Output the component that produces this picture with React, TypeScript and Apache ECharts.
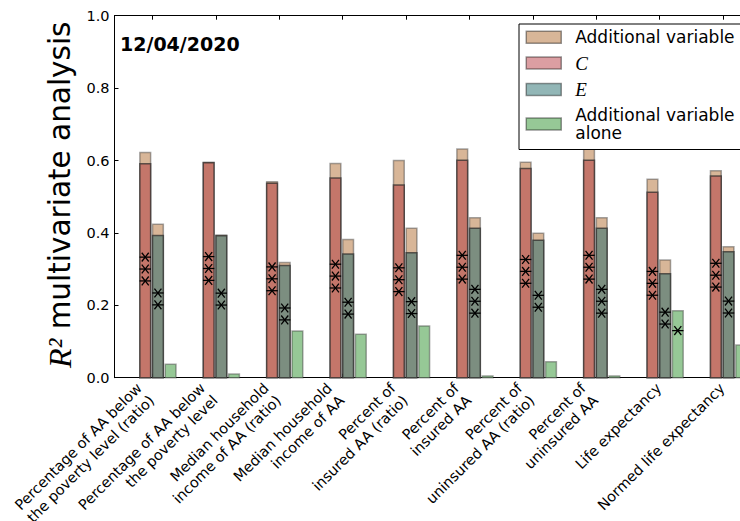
import { useEffect, useRef } from 'react';
import * as echarts from 'echarts';

// Outcome variables, one group of bars per entry
const categories = [
  'Percentage of AA below\nthe poverty level (ratio)',
  'Percentage of AA below\nthe poverty level',
  'Median household\nincome of AA (ratio)',
  'Median household\nincome of AA',
  'Percent of\ninsured AA (ratio)',
  'Percent of\ninsured AA',
  'Percent of\nuninsured AA (ratio)',
  'Percent of\nuninsured AA',
  'Life expectancy',
  'Normed life expectancy',
];

// R^2 of the C model, and of C plus the additional variable
const cValues = [0.591, 0.594, 0.537, 0.552, 0.532, 0.601, 0.578, 0.601, 0.512, 0.557];
const cWithAdditional = [0.622, 0.595, 0.541, 0.592, 0.600, 0.632, 0.595, 0.632, 0.548, 0.572];
// R^2 of the E model, and of E plus the additional variable
const eValues = [0.393, 0.392, 0.310, 0.342, 0.345, 0.413, 0.380, 0.413, 0.287, 0.348];
const eWithAdditional = [0.424, 0.394, 0.318, 0.382, 0.413, 0.442, 0.399, 0.442, 0.325, 0.362];
// R^2 of the additional variable on its own
const aloneValues = [0.037, 0.010, 0.129, 0.120, 0.143, 0.005, 0.044, 0.005, 0.185, 0.090];

// Significance stars drawn on each bar
const cStars = [3, 3, 3, 3, 3, 3, 3, 3, 3, 3];
const eStars = [2, 2, 2, 2, 2, 3, 2, 3, 2, 2];
const aloneStars = [0, 0, 0, 0, 0, 0, 0, 0, 1, 0];

const yTickStep = 0.2;
const dateLabel = '12/04/2020';

const BAR_W = 0.17;
const OFF_C = -0.2;
const OFF_E = 0;
const OFF_ALONE = 0.2;

const FILL_ADD = '#d8b698';
const FILL_C = '#c4766a';
const FILL_E = '#7c8e80';
const FILL_ALONE = '#96c896';
const EDGE_LIGHT = 'rgba(60,60,60,0.45)';
const EDGE_DARK = 'rgba(40,40,40,0.7)';

const SANS = 'DejaVu Sans';
const MATH = 'Liberation Serif';

const barRenderer = (fill: string, stroke: string) => (_params: any, api: any) => {
  const x = api.value(0) as number;
  const v = api.value(1) as number;
  const tl = api.coord([x, v]);
  const br = api.coord([x + BAR_W, 0]);
  return {
    type: 'rect',
    shape: { x: tl[0], y: tl[1], width: br[0] - tl[0], height: br[1] - tl[1] },
    style: { fill, stroke, lineWidth: 1.5 },
  };
};

const starRenderer = (_params: any, api: any) => {
  const x = api.value(0) as number;
  const v = api.value(1) as number;
  const n = api.value(2) as number;
  const c = api.coord([x + BAR_W / 2, v / 2]);
  const children: any[] = [];
  const st = { stroke: '#000', lineWidth: 1.3 };
  for (let k = 0; k < n; k++) {
    const cx = c[0];
    const cy = c[1] - 13.6 + k * 11.9;
    children.push({ type: 'line', shape: { x1: cx - 5.7, y1: cy, x2: cx + 5.7, y2: cy }, style: st });
    children.push({ type: 'line', shape: { x1: cx - 3.5, y1: cy - 4.4, x2: cx + 3.5, y2: cy + 4.4 }, style: st });
    children.push({ type: 'line', shape: { x1: cx - 3.5, y1: cy + 4.4, x2: cx + 3.5, y2: cy - 4.4 }, style: st });
  }
  return { type: 'group', children };
};

export default function App() {
  const ref = useRef<HTMLDivElement>(null);

  useEffect(() => {
    if (!ref.current) return;
    const chart = echarts.init(ref.current, undefined, { renderer: 'svg' });

    const idx = categories.map((_, i) => i);
    const addData: number[][] = [];
    categories.forEach((_, i) => {
      addData.push([i + OFF_C, cWithAdditional[i]]);
      addData.push([i + OFF_E, eWithAdditional[i]]);
    });
    const cData = cValues.map((v, i) => [i + OFF_C, v]);
    const eData = eValues.map((v, i) => [i + OFF_E, v]);
    const aloneData = aloneValues.map((v, i) => [i + OFF_ALONE, v]);
    const starData: number[][] = [];
    categories.forEach((_, i) => {
      if (cStars[i]) starData.push([i + OFF_C, cValues[i], cStars[i]]);
      if (eStars[i]) starData.push([i + OFF_E, eValues[i], eStars[i]]);
      if (aloneStars[i]) starData.push([i + OFF_ALONE, aloneValues[i], aloneStars[i]]);
    });

    const xMin = -0.6;
    const xMax = 9.266;

    const labelToken = (lines: string[]) => {
      const tag = lines.length > 1 ? 'two' : 'one';
      return lines.map((l) => `{${tag}|${l}}`).join('\n');
    };
    const tickFont = { fontFamily: SANS, fontSize: 14.5, color: '#000' };

    chart.setOption({
      animation: false,
      backgroundColor: '#fff',
      title: {
        text: dateLabel,
        left: 120,
        top: 34,
        padding: 0,
        textStyle: { fontFamily: SANS, fontSize: 19, fontWeight: 'bold', color: '#000' },
      },
      grid: {
        left: 114.5,
        top: 15.7,
        right: 0,
        bottom: 143.3,
        containLabel: false,
        outerBoundsMode: 'none',
      },
      legend: {
        orient: 'vertical',
        left: 519,
        top: 24,
        selectedMode: false,
        backgroundColor: '#fff',
        borderColor: '#000',
        borderWidth: 1,
        borderRadius: 0,
        padding: [4.5, 12, 8, 6.5],
        itemGap: 7.5,
        itemWidth: 35,
        itemHeight: 12,
        data: [
          { name: 'Additional variable', icon: 'rect', itemStyle: { color: FILL_ADD, borderColor: 'rgba(0,0,0,0.4)', borderWidth: 1.5 } },
          { name: 'C', icon: 'rect', itemStyle: { color: '#db9ea2', borderColor: 'rgba(0,0,0,0.4)', borderWidth: 1.5 } },
          { name: 'E', icon: 'rect', itemStyle: { color: '#92b6b6', borderColor: 'rgba(0,0,0,0.4)', borderWidth: 1.5 } },
          { name: 'Additional variable alone', icon: 'rect', itemStyle: { color: FILL_ALONE, borderColor: 'rgba(0,0,0,0.4)', borderWidth: 1.5 } },
        ],
        formatter: (name: string) => {
          if (name === 'C') return '{m|C}';
          if (name === 'E') return '{m|E}';
          if (name === 'Additional variable alone') return 'Additional variable\nalone';
          return name;
        },
        textStyle: {
          fontFamily: SANS,
          fontSize: 17,
          lineHeight: 17.5,
          color: '#000',
          padding: [0, 0, 0, 9],
          rich: {
            m: { fontFamily: MATH, fontStyle: 'italic', fontSize: 19, lineHeight: 17.5, color: '#000' },
          },
        },
      },
      xAxis: [
        {
          type: 'value',
          min: xMin,
          max: xMax,
          position: 'bottom',
          splitLine: { show: false },
          axisLine: { onZero: false, lineStyle: { color: '#000', width: 1 } },
          axisTick: { inside: true, length: 4, customValues: idx, lineStyle: { color: '#000' } },
          axisLabel: {
            customValues: idx,
            rotate: 45,
            margin: 7,
            ...tickFont,
            lineHeight: 17.5,
            hideOverlap: false,
            formatter: (v: number) => labelToken(categories[Math.round(v)].split('\n')),
            rich: {
              two: { ...tickFont, lineHeight: 17.5, padding: [0, 10, 0, 0] },
              one: { ...tickFont, lineHeight: 17.5, padding: [0, 1.5, 0, 0] },
            },
          },
        },
        {
          type: 'value',
          min: xMin,
          max: xMax,
          position: 'top',
          splitLine: { show: false },
          axisLine: { onZero: false, lineStyle: { color: '#000', width: 1 } },
          axisTick: { inside: true, length: 4, customValues: idx, lineStyle: { color: '#000' } },
          axisLabel: { show: false },
        },
      ],
      yAxis: {
        type: 'value',
        min: 0,
        max: 1,
        interval: yTickStep,
        splitLine: { show: false },
        axisLine: { show: true, onZero: false, lineStyle: { color: '#000', width: 1 } },
        axisTick: { show: true, inside: true, length: 4, lineStyle: { color: '#000' } },
        axisLabel: { ...tickFont, margin: 5, formatter: (v: number) => v.toFixed(1) },
        name: '{r|R²}{t| multivariate analysis}',
        nameLocation: 'middle',
        nameRotate: 90,
        nameGap: 23,
        nameTextStyle: {
          padding: [0, 0, 0, 4],
          rich: {
            r: { fontFamily: MATH, fontStyle: 'italic', fontSize: 32, color: '#000', lineHeight: 34 },
            t: { fontFamily: SANS, fontSize: 29.5, color: '#000', lineHeight: 34 },
          },
        },
      },
      series: [
        { name: 'Additional variable', type: 'custom', xAxisIndex: 0, renderItem: barRenderer(FILL_ADD, EDGE_LIGHT), data: addData, z: 1 },
        { name: 'C', type: 'custom', xAxisIndex: 0, renderItem: barRenderer(FILL_C, EDGE_DARK), data: cData, z: 2 },
        { name: 'E', type: 'custom', xAxisIndex: 0, renderItem: barRenderer(FILL_E, EDGE_DARK), data: eData, z: 2 },
        { name: 'Additional variable alone', type: 'custom', xAxisIndex: 0, renderItem: barRenderer(FILL_ALONE, EDGE_LIGHT), data: aloneData, z: 2 },
        { name: 'stars', type: 'custom', xAxisIndex: 0, renderItem: starRenderer, data: starData, z: 3 },
      ],
    });

    return () => chart.dispose();
  }, []);

  return (
    <div
      ref={ref}
      style={{ position: 'absolute', left: 0, top: 0, width: 740, height: 521 }}
    />
  );
}
